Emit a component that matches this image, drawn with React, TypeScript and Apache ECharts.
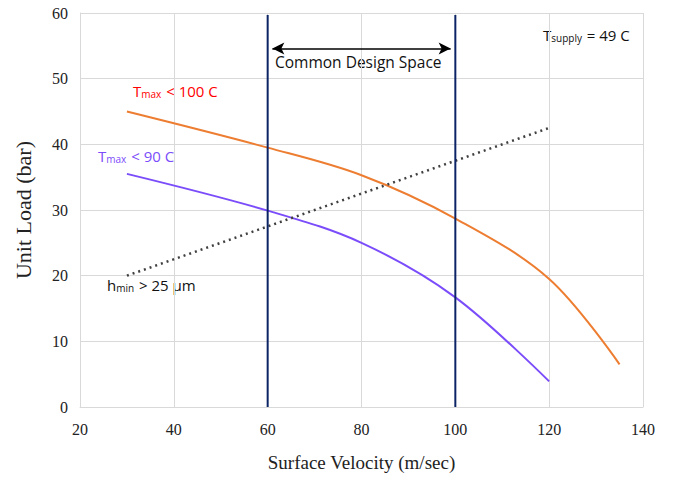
import React, { useEffect, useRef } from "react";
import * as echarts from "echarts";

const xTicks = [20, 40, 60, 80, 100, 120, 140];
const yTicks = [0, 10, 20, 30, 40, 50, 60];

const tmax100X = [30, 60, 80, 100, 120, 135];
const tmax100Y = [45, 39.5, 35.3, 28.7, 19.5, 6.5];

const tmax90X = [30, 60, 80, 100, 120];
const tmax90Y = [35.5, 29.9, 25.0, 16.7, 3.9];

const hminX = [30, 120];
const hminY = [20, 42.5];

const designBounds = [60, 100];
const boundTop = 59.7;
const arrowY = 54.6;

export default function App() {
  const ref = useRef<HTMLDivElement>(null);
  useEffect(() => {
    if (!ref.current) return;
    const chart = echarts.init(ref.current, undefined, { renderer: "svg" });
    const pair = (xs: number[], ys: number[]) => xs.map((x, i) => [x, ys[i]]);
    const serifFont = "'Liberation Serif', 'Times New Roman', serif";
    const sansFont = "'Open Sans', 'Noto Sans', sans-serif";
    const richSub = (color: string, size = 14) => ({
      m: { fontSize: size, color, fill: color, fontFamily: sansFont, lineHeight: 20 },
      s: { fontSize: 10, color, fill: color, fontFamily: sansFont, lineHeight: 20, padding: [7, 1, 0, 0] },
    });
    chart.setOption({
      animation: false,
      grid: { left: 80, right: 30, top: 13, bottom: 74 },
      xAxis: {
        type: "value",
        min: 20,
        max: 140,
        interval: 20,
        name: "Surface Velocity (m/sec)",
        nameLocation: "middle",
        nameGap: 46,
        nameTextStyle: { fontFamily: serifFont, fontSize: 19, color: "#222" },
        axisLine: { show: true, lineStyle: { color: "#d9d9d9", width: 1 } },
        axisTick: { show: false },
        axisLabel: { fontFamily: serifFont, fontSize: 16, color: "#222", margin: 14, formatter: (v: number) => (xTicks.includes(v) ? String(v) : "") },
        splitLine: { show: true, lineStyle: { color: "#d9d9d9", width: 1 } },
      },
      yAxis: {
        type: "value",
        min: 0,
        max: 60,
        interval: 10,
        name: "Unit Load (bar)",
        nameLocation: "middle",
        nameGap: 46,
        nameTextStyle: { fontFamily: serifFont, fontSize: 22, color: "#222" },
        axisLine: { show: true, lineStyle: { color: "#d9d9d9", width: 1 } },
        axisTick: { show: false },
        axisLabel: { fontFamily: serifFont, fontSize: 16, color: "#222", margin: 12, formatter: (v: number) => (yTicks.includes(v) ? String(v) : "") },
        splitLine: { show: true, lineStyle: { color: "#d9d9d9", width: 1 } },
      },
      series: [
        {
          type: "line",
          data: pair(tmax100X, tmax100Y),
          smooth: 0.35,
          showSymbol: false,
          lineStyle: { color: "#ED7D31", width: 2 },
        },
        {
          type: "line",
          data: pair(tmax90X, tmax90Y),
          smooth: 0.35,
          showSymbol: false,
          lineStyle: { color: "#7B4DFA", width: 2 },
        },
        {
          type: "line",
          data: pair(hminX, hminY),
          showSymbol: false,
          lineStyle: { color: "#404040", width: 2.5, type: [2, 4] },
        },
        ...designBounds.map((b) => ({
          type: "line",
          data: [[b, 0], [b, boundTop]],
          showSymbol: false,
          lineStyle: { color: "#0c2466", width: 2 },
        })),
        {
          type: "line",
          data: [],
          markLine: {
            silent: true,
            symbol: ["arrow", "arrow"],
            symbolSize: [9, 12],
            label: { show: false },
            lineStyle: { color: "#000", width: 1.5, type: "solid" },
            data: [[{ coord: [designBounds[0] + 1, arrowY] }, { coord: [designBounds[1] - 1, arrowY] }]],
          },
        },
      ],
      graphic: [
        {
          type: "text",
          left: 275,
          top: 54,
          style: { text: "Common Design Space", fontFamily: sansFont, fontSize: 15.5, fill: "#111" },
        },
        {
          type: "text",
          left: 133,
          top: 82,
          style: { text: "{m|T}{s|max}{m| < 100 C}", rich: richSub("#ff0000", 15) },
        },
        {
          type: "text",
          left: 98,
          top: 147,
          style: { text: "{m|T}{s|max}{m| < 90 C}", rich: richSub("#7B4DFA", 15) },
        },
        {
          type: "text",
          left: 107,
          top: 276,
          style: { text: "{m|h}{s|min}{m| > 25 \u00b5m}", rich: richSub("#111", 15) },
        },
        {
          type: "text",
          left: 543,
          top: 26,
          style: { text: "{m|T}{s|supply}{m| = 49 C}", rich: richSub("#111", 15) },
        },
      ],
    });
    return () => chart.dispose();
  }, []);
  return <div ref={ref} style={{ width: 673, height: 481, position: "absolute", left: 0, top: 0 }} />;
}
